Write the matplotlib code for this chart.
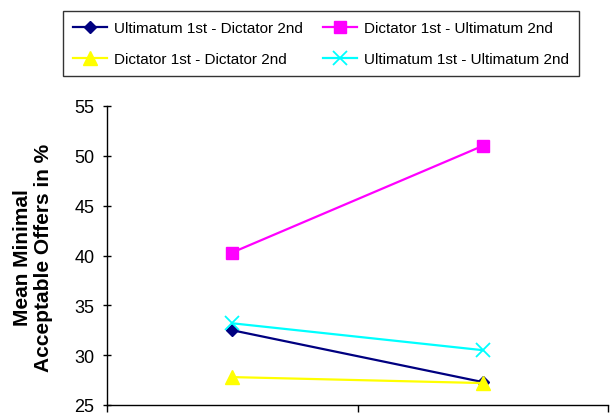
import matplotlib
matplotlib.use("Agg")
import matplotlib.pyplot as plt

plt.rcParams["font.family"] = ["Liberation Sans", "DejaVu Sans"]

# data
positions = [0.5, 1.5]
ultDict = [32.5, 27.3]
dictUlt = [40.3, 51.0]
dictDict = [27.8, 27.2]
ultUlt = [33.2, 30.5]

labels = [
    "Ultimatum 1st - Dictator 2nd",
    "Dictator 1st - Ultimatum 2nd",
    "Dictator 1st - Dictator 2nd",
    "Ultimatum 1st - Ultimatum 2nd",
]
yTicks = [25, 30, 35, 40, 45, 50, 55]

fig = plt.figure(figsize=(6.14, 4.14), dpi=100)
ax = fig.add_axes([107 / 614, 8 / 414, 501 / 614, 299 / 414])

lineOpts = dict(linewidth=1.6, clip_on=False)
hUD, = ax.plot(positions, ultDict, color="#000080", marker="D", markersize=6.5, **lineOpts)
hDU, = ax.plot(positions, dictUlt, color="#FF00FF", marker="s", markersize=8.5, **lineOpts)
hDD, = ax.plot(positions, dictDict, color="#FFFF00", marker="^", markersize=9.5, **lineOpts)
hUU, = ax.plot(positions, ultUlt, color="#00FFFF", marker="x", markersize=9.5,
               markeredgewidth=1.3, **lineOpts)

ax.set_xlim(0, 2)
ax.set_ylim(25, 55)
ax.set_xticks([0, 1, 2])
ax.set_xticklabels([])
ax.set_yticks(yTicks)
ax.set_yticklabels([str(t) for t in yTicks], fontsize=13)
ax.tick_params(axis="x", direction="out", length=5, width=1)
ax.tick_params(axis="y", direction="inout", length=6, width=1, pad=6)
for direction in ["top", "right"]:
    ax.spines[direction].set_visible(False)
for direction in ["left", "bottom"]:
    ax.spines[direction].set_linewidth(1)

fig.text(
    33 / 614, (414 - 258) / 414,
    "Mean Minimal\nAcceptable Offers in %",
    rotation=90, ha="center", va="center", multialignment="center",
    fontsize=15, fontweight="bold", linespacing=1.1,
)

leg = fig.legend(
    [hUD, hDD, hDU, hUU],
    [labels[0], labels[2], labels[1], labels[3]],
    ncol=2,
    loc="upper left",
    bbox_to_anchor=(63 / 614, 1 - 12 / 414),
    fontsize=11.0,
    frameon=True,
    fancybox=False,
    edgecolor="black",
    handlelength=2.25,
    handletextpad=0.45,
    columnspacing=1.3,
    labelspacing=1.15,
    borderpad=0.65,
    borderaxespad=0,
)
leg.get_frame().set_linewidth(1)

fig.savefig("out.png", dpi=100)
